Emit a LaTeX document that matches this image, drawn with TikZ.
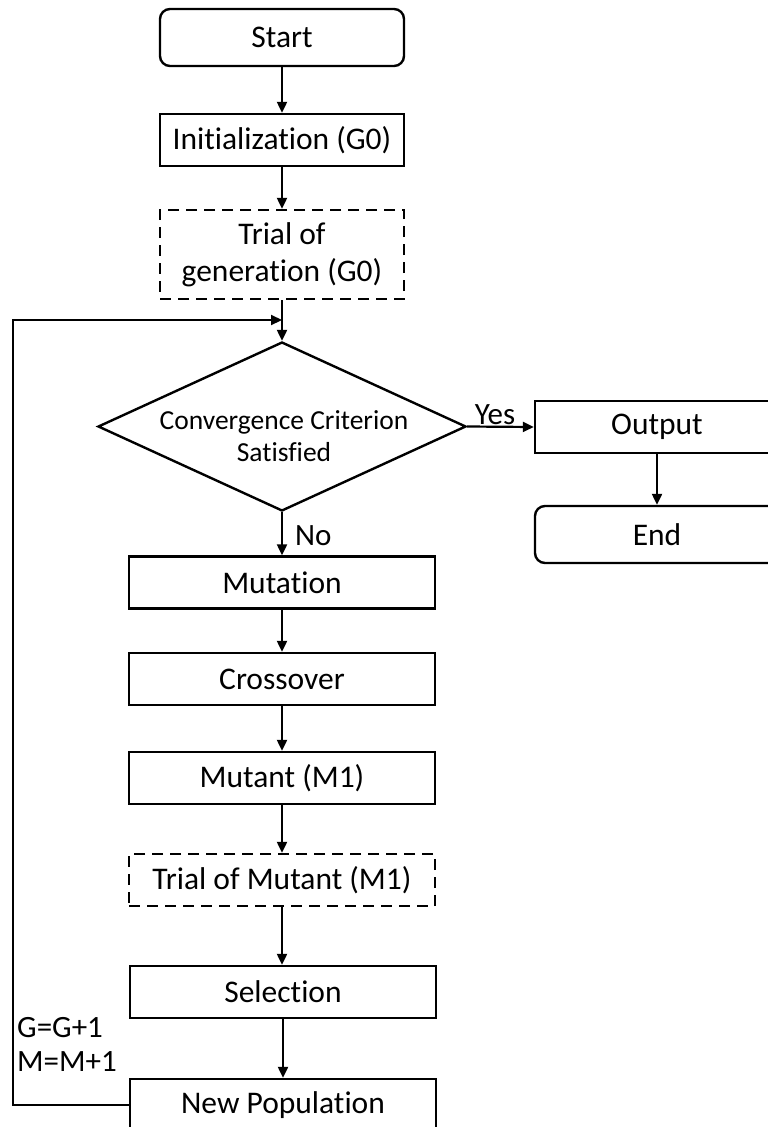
\documentclass[tikz,border=0pt]{standalone}
\usepackage{fontspec}
\setmainfont{Carlito}[Ligatures=NoCommon]
\usetikzlibrary{shapes.geometric,arrows.meta}
\begin{document}
\begin{tikzpicture}[x=1pt,y=-1pt,
  base/.style={draw=black, line width=2.4pt, inner sep=0pt, align=center, font=\fontsize{31.5}{37}\selectfont},
  boxA/.style={base, minimum width=244pt, minimum height=52pt},
  boxB/.style={base, minimum width=306pt, minimum height=52pt},
  roundbox/.style={boxA, rounded corners=10pt, minimum height=57pt},
  dashbox/.style={dash pattern=on 11pt off 7pt},
  lbl/.style={inner sep=0pt, font=\fontsize{31}{34}\selectfont},
  arr/.style={line width=2.2pt, -{Triangle[length=11pt,width=10pt]}}
]
\useasboundingbox (0,0) rectangle (768,1127);
\clip (0,0) rectangle (768,1127);

\node[roundbox] (start) at (282,37.5) {Start};
\node[boxA] (init) at (282,140) {Initialization (G0)};
\node[boxA, dashbox, minimum height=89pt] (trial) at (282,254.5) {Trial of\\generation (G0)};
\node[draw=black, line width=2.4pt, diamond, inner sep=0pt, minimum width=368pt, minimum height=169pt] (conv) at (282,426.5) {};
\node[inner sep=0pt, align=center, font=\fontsize{27.5}{32}\selectfont] (convtext) at (284,436) {Convergence Criterion\\Satisfied};
\node[boxA] (output) at (657,427) {Output};
\node[roundbox] (end) at (657,534.5) {End};
\node[boxB] (mut) at (282,582.5) {Mutation};
\node[boxB] (cross) at (282,679) {Crossover};
\node[boxB] (mutant) at (282,778) {Mutant (M1)};
\node[boxB, dashbox] (trialm) at (282,880) {Trial of Mutant (M1)};
\node[boxB] (sel) at (283,992) {Selection};
\node[boxB] (newpop) at (283,1105) {New Population};

\coordinate (lp1) at (13,1105);
\coordinate (lp2) at (13,320);
\coordinate (lp3) at (282,320);

\draw[arr] (start.south) -- (init.north);
\draw[arr] (init.south) -- (trial.north);
\draw[arr] (trial.south) -- (conv.north);
\draw[arr] (conv.east) -- (output.west);
\draw[arr] (output.south) -- (end.north);
\draw[arr] (conv.south) -- (mut.north);
\draw[arr] (mut.south) -- (cross.north);
\draw[arr] (cross.south) -- (mutant.north);
\draw[arr] (mutant.south) -- (trialm.north);
\draw[arr] (trialm.south) -- (trialm.south |- sel.north);
\draw[arr] (sel.south) -- (newpop.north);
\draw[arr] (newpop.west) -- (lp1) -- (lp2) -- (lp3);

\node[lbl, anchor=south] (yes) at (495,425) {Yes};
\node[lbl, anchor=west] (no) at (295,536) {No};
\node[lbl, anchor=west, align=left] (incr) at (17,1044) {G=G+1\\M=M+1};
\end{tikzpicture}
\end{document}
